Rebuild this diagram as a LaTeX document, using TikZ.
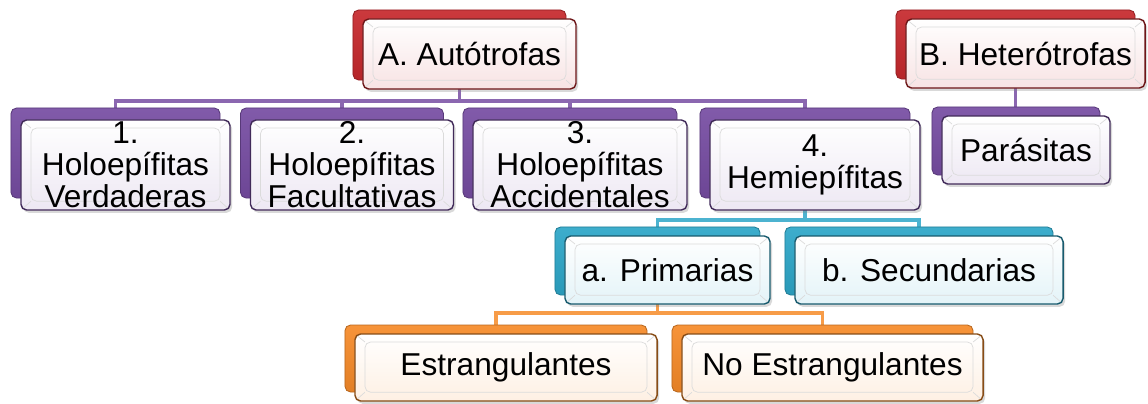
\documentclass[tikz,border=0pt]{standalone}
\usepackage{fontspec}
\setmainfont{Liberation Sans}
\usetikzlibrary{shadows,backgrounds}
\definecolor{rojo}{RGB}{198,40,44}
\definecolor{morado}{RGB}{118,76,162}
\definecolor{celeste}{RGB}{44,166,200}
\definecolor{naranja}{RGB}{246,138,40}
\begin{document}
\begin{tikzpicture}[x=0.025cm,y=-0.025cm,
  fondo/.style={rounded corners=4pt,draw=#1!75!black,line width=0.6pt,
    top color=#1!92!white,bottom color=#1!92!black,inner sep=0pt},
  frente/.style={rounded corners=4pt,draw=#1!55!black,line width=1pt,
    top color=white,bottom color=#1!13!white,inner sep=0pt,align=center,
    drop shadow={opacity=0.3,shadow xshift=1.5pt,shadow yshift=-2pt},
    font=\fontsize{22.5}{22.8}\selectfont,
    path picture={
      \coordinate (nw) at (path picture bounding box.north west);
      \coordinate (se) at (path picture bounding box.south east);
      \coordinate (ne) at (path picture bounding box.north east);
      \coordinate (sw) at (path picture bounding box.south west);
      \draw[black!14,line width=0.5pt]
        ([shift={(0.25cm,-0.2cm)}]nw) rectangle ([shift={(-0.25cm,0.22cm)}]se)
        (nw) -- ([shift={(0.25cm,-0.2cm)}]nw)
        (ne) -- ([shift={(-0.25cm,-0.2cm)}]ne)
        (se) -- ([shift={(-0.25cm,0.22cm)}]se)
        (sw) -- ([shift={(0.25cm,0.22cm)}]sw);}},
  enlace/.style={draw=#1!85!white,line width=2.6pt}]
\useasboundingbox (0,0) rectangle (1148,403);

\node[fondo=rojo,minimum width=5.325cm,minimum height=1.75cm] (autb) at (459.5,45) {};
\node[frente=rojo,minimum width=5.325cm,minimum height=1.75cm,xshift=0.25cm,yshift=-0.225cm] (aut) at (autb) {A. Autótrofas};
\node[fondo=rojo,minimum width=5.975cm,minimum height=1.725cm] (hetb) at (1015.5,44.5) {};
\node[frente=rojo,minimum width=5.975cm,minimum height=1.725cm,xshift=0.25cm,yshift=-0.225cm] (het) at (hetb) {B. Heterótrofas};
\node[fondo=morado,minimum width=4.2cm,minimum height=1.7cm] (parb) at (1016,141) {};
\node[frente=morado,minimum width=4.2cm,minimum height=1.7cm,xshift=0.25cm,yshift=-0.225cm] (par) at (parb) {Parásitas};

\node[fondo=morado,minimum width=5.225cm,minimum height=2.25cm] (h1b) at (115.5,153) {};
\node[frente=morado,minimum width=5.225cm,minimum height=2.25cm,xshift=0.25cm,yshift=-0.3cm] (h1) at (h1b) {1.\\Holoepífitas\\Verdaderas};
\node[fondo=morado,minimum width=5.075cm,minimum height=2.25cm] (h2b) at (342,153) {};
\node[frente=morado,minimum width=5.075cm,minimum height=2.25cm,xshift=0.25cm,yshift=-0.3cm] (h2) at (h2b) {2.\\Holoepífitas\\Facultativas};
\node[fondo=morado,minimum width=5.35cm,minimum height=2.25cm] (h3b) at (570,153) {};
\node[frente=morado,minimum width=5.35cm,minimum height=2.25cm,xshift=0.25cm,yshift=-0.3cm] (h3) at (h3b) {3.\\Holoepífitas\\Accidentales};
\node[fondo=morado,minimum width=5.25cm,minimum height=2.25cm] (h4b) at (805,153) {};
\node[frente=morado,minimum width=5.25cm,minimum height=2.25cm,xshift=0.25cm,yshift=-0.3cm] (h4) at (h4b) {4.\\Hemiepífitas};

\node[fondo=celeste,minimum width=5.125cm,minimum height=1.7cm] (prib) at (657.5,261) {};
\node[frente=celeste,minimum width=5.125cm,minimum height=1.7cm,xshift=0.25cm,yshift=-0.225cm] (pri) at (prib) {a. Primarias};
\node[fondo=celeste,minimum width=6.7cm,minimum height=1.7cm] (secb) at (919,261) {};
\node[frente=celeste,minimum width=6.7cm,minimum height=1.7cm,xshift=0.25cm,yshift=-0.225cm] (sec) at (secb) {b. Secundarias};

\node[fondo=naranja,minimum width=7.55cm,minimum height=1.675cm] (estb) at (496,358.5) {};
\node[frente=naranja,minimum width=7.55cm,minimum height=1.675cm,xshift=0.25cm,yshift=-0.225cm] (est) at (estb) {Estrangulantes};
\node[fondo=naranja,minimum width=7.525cm,minimum height=1.675cm] (noestb) at (822.5,358.5) {};
\node[frente=naranja,minimum width=7.525cm,minimum height=1.675cm,xshift=0.25cm,yshift=-0.225cm] (noest) at (noestb) {No Estrangulantes};

\begin{pgfonlayer}{background}
\coordinate (busA) at (0,101);
\coordinate (busH) at (0,220);
\coordinate (busP) at (0,313);
\foreach \n in {h1b,h2b,h3b,h4b}
  \draw[enlace=morado] (autb.south) |- (busA -| \n) -- (\n.north);
\draw[enlace=morado] (hetb.south) -- (hetb.south |- parb.north);
\foreach \n in {prib,secb}
  \draw[enlace=celeste] (h4b.south) |- (busH -| \n) -- (\n.north);
\foreach \n in {estb,noestb}
  \draw[enlace=naranja] (prib.south) |- (busP -| \n) -- (\n.north);
\end{pgfonlayer}
\end{tikzpicture}
\end{document}
